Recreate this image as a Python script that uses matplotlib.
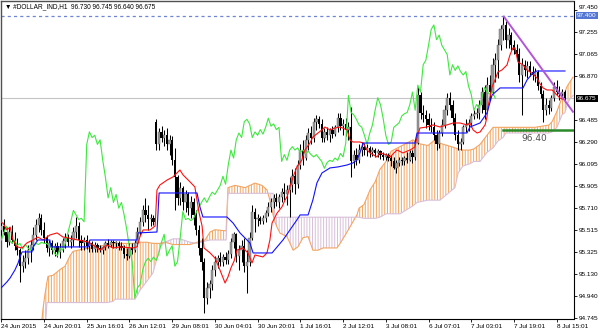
import numpy as np
import matplotlib
matplotlib.use("Agg")
import matplotlib.pyplot as plt
from matplotlib.transforms import blended_transform_factory

plt.rcParams['font.family'] = ['Liberation Sans', 'DejaVu Sans']
plt.rcParams['hatch.linewidth'] = 0.7

# ---------------- data ----------------
opens = [95.52, 95.55, 95.50, 95.41, 95.50, 95.43, 95.38, 95.34, 95.20, 95.24,
         95.27, 95.34, 95.39, 95.47, 95.56, 95.62, 95.52, 95.45, 95.36, 95.40,
         95.34, 95.38, 95.32, 95.36, 95.42, 95.45, 95.41, 95.43, 95.50, 95.55,
         95.43, 95.40, 95.43, 95.38, 95.40, 95.35, 95.39, 95.36, 95.34, 95.37,
         95.40, 95.39, 95.41, 95.40, 95.40, 95.38, 95.36, 95.31, 95.29, 95.36,
         95.34, 95.40, 95.50, 95.59, 95.69, 95.65, 95.61, 95.62, 96.47, 96.27,
         96.38, 96.33, 96.35, 96.27, 96.31, 96.13, 95.98, 95.80, 95.89, 95.76,
         95.83, 95.71, 95.76, 95.65, 95.52, 95.36, 95.24, 94.92, 95.01, 95.04,
         95.17, 95.24, 95.27, 95.24, 95.28, 95.25, 95.31, 95.41, 95.48, 95.29,
         95.34, 95.38, 95.20, 95.24, 95.45, 95.68, 95.61, 95.62, 95.60, 95.62,
         95.67, 95.72, 95.76, 95.80, 95.76, 95.81, 95.85, 95.83, 95.87, 95.91,
         95.99, 95.92, 96.09, 96.22, 96.15, 96.31, 96.37, 96.33, 96.47, 96.49,
         96.45, 96.33, 96.38, 96.35, 96.40, 96.36, 96.42, 96.50, 96.43, 96.45,
         96.40, 96.42, 96.12, 96.18, 96.13, 96.22, 96.25, 96.22, 96.24, 96.20,
         96.22, 96.19, 96.21, 96.18, 96.16, 96.18, 96.15, 96.12, 96.06, 96.11,
         96.13, 96.12, 96.15, 96.13, 96.19, 96.16, 96.28, 96.70, 96.55, 96.53,
         96.49, 96.44, 96.42, 96.35, 96.27, 96.37, 96.44, 96.57, 96.68, 96.62,
         96.50, 96.35, 96.27, 96.29, 96.42, 96.44, 96.46, 96.52, 96.54, 96.55,
         96.62, 96.73, 96.57, 96.79, 96.73, 96.97, 97.01, 97.14, 97.28, 97.32,
         97.19, 97.23, 97.14, 97.10, 97.06, 96.88, 96.97, 96.92, 96.96, 96.91,
         96.88, 96.91, 96.78, 96.71, 96.57, 96.62, 96.59, 96.68, 96.77, 96.73,
         96.71, 96.73]
highs = [95.59, 95.61, 95.54, 95.54, 95.56, 95.50, 95.45, 95.36, 95.30, 95.34,
         95.39, 95.43, 95.54, 95.61, 95.67, 95.66, 95.59, 95.47, 95.43, 95.43,
         95.40, 95.41, 95.40, 95.45, 95.49, 95.48, 95.47, 95.54, 95.63, 95.59,
         95.47, 95.46, 95.47, 95.43, 95.42, 95.41, 95.40, 95.39, 95.38, 95.42,
         95.44, 95.43, 95.43, 95.42, 95.42, 95.41, 95.39, 95.36, 95.40, 95.40,
         95.43, 95.54, 95.63, 95.74, 95.80, 95.74, 95.66, 95.65, 96.49, 96.41,
         96.43, 96.40, 96.41, 96.35, 96.34, 96.24, 96.00, 95.94, 95.90, 95.87,
         95.85, 95.82, 95.80, 95.69, 95.56, 95.45, 95.27, 95.06, 95.08, 95.21,
         95.29, 95.30, 95.32, 95.31, 95.32, 95.34, 95.45, 95.50, 95.49, 95.39,
         95.43, 95.45, 95.34, 95.50, 95.74, 95.71, 95.66, 95.64, 95.65, 95.69,
         95.76, 95.80, 95.83, 95.84, 95.83, 95.89, 95.93, 95.91, 95.98, 96.05,
         96.06, 96.13, 96.27, 96.31, 96.35, 96.41, 96.43, 96.50, 96.53, 96.52,
         96.49, 96.41, 96.42, 96.41, 96.43, 96.44, 96.55, 96.55, 96.49, 96.50,
         96.47, 96.60, 96.22, 96.24, 96.27, 96.29, 96.28, 96.27, 96.26, 96.25,
         96.24, 96.23, 96.22, 96.20, 96.19, 96.19, 96.18, 96.16, 96.13, 96.16,
         96.16, 96.17, 96.20, 96.22, 96.22, 96.31, 96.77, 96.73, 96.62, 96.57,
         96.55, 96.50, 96.47, 96.40, 96.40, 96.49, 96.62, 96.72, 96.73, 96.66,
         96.55, 96.40, 96.33, 96.44, 96.49, 96.49, 96.55, 96.57, 96.59, 96.66,
         96.77, 96.79, 96.86, 96.88, 97.03, 97.07, 97.20, 97.32, 97.40, 97.35,
         97.29, 97.26, 97.19, 97.15, 97.12, 97.03, 97.01, 97.00, 97.00, 96.96,
         96.94, 96.92, 96.82, 96.75, 96.68, 96.66, 96.70, 96.82, 96.84, 96.78,
         96.76, 96.745]
lows = [95.47, 95.47, 95.37, 95.39, 95.40, 95.34, 95.30, 95.06, 95.15, 95.18,
        95.22, 95.24, 95.34, 95.43, 95.50, 95.47, 95.40, 95.32, 95.29, 95.31,
        95.29, 95.28, 95.27, 95.32, 95.36, 95.38, 95.36, 95.38, 95.45, 95.37,
        95.34, 95.34, 95.35, 95.32, 95.32, 95.32, 95.32, 95.32, 95.31, 95.34,
        95.36, 95.37, 95.36, 95.36, 95.34, 95.34, 95.27, 95.25, 95.27, 95.31,
        95.32, 95.38, 95.47, 95.55, 95.59, 95.52, 95.55, 95.56, 96.22, 96.22,
        96.29, 96.26, 96.22, 96.18, 96.09, 95.69, 95.74, 95.74, 95.69, 95.68,
        95.65, 95.62, 95.56, 95.47, 95.30, 95.17, 94.79, 94.87, 94.92, 94.99,
        95.11, 95.18, 95.20, 95.20, 95.22, 95.22, 95.27, 95.36, 95.24, 95.17,
        95.24, 95.15, 94.96, 95.20, 95.43, 95.50, 95.55, 95.57, 95.57, 95.59,
        95.64, 95.68, 95.71, 95.73, 95.71, 95.76, 95.78, 95.74, 95.63, 95.85,
        95.83, 95.89, 96.05, 96.09, 96.13, 96.22, 96.27, 96.29, 96.40, 96.41,
        96.29, 96.29, 96.31, 96.29, 96.33, 96.34, 96.38, 96.40, 96.35, 96.34,
        96.31, 95.98, 96.06, 96.09, 96.11, 96.17, 96.18, 96.17, 96.16, 96.17,
        96.16, 96.16, 96.14, 96.13, 96.13, 96.12, 96.08, 96.05, 96.02, 96.08,
        96.09, 96.09, 96.11, 96.12, 96.11, 96.13, 96.27, 96.49, 96.47, 96.41,
        96.40, 96.38, 96.31, 96.22, 96.24, 96.34, 96.41, 96.53, 96.57, 96.44,
        96.31, 96.22, 96.22, 96.27, 96.38, 96.39, 96.42, 96.49, 96.50, 96.49,
        96.55, 96.49, 96.55, 96.66, 96.70, 96.82, 96.85, 97.10, 97.19, 97.12,
        97.12, 97.10, 97.06, 97.01, 96.82, 96.53, 96.87, 96.85, 96.87, 96.84,
        96.82, 96.75, 96.68, 96.47, 96.53, 96.54, 96.56, 96.65, 96.70, 96.66,
        96.68, 96.64]
closes = [95.55, 95.50, 95.41, 95.50, 95.43, 95.38, 95.34, 95.20, 95.24, 95.27,
          95.34, 95.39, 95.47, 95.56, 95.62, 95.52, 95.45, 95.36, 95.40, 95.34,
          95.38, 95.32, 95.36, 95.42, 95.45, 95.41, 95.43, 95.50, 95.55, 95.43,
          95.40, 95.43, 95.38, 95.40, 95.35, 95.39, 95.36, 95.34, 95.37, 95.40,
          95.39, 95.41, 95.40, 95.40, 95.38, 95.36, 95.31, 95.29, 95.36, 95.34,
          95.40, 95.50, 95.59, 95.69, 95.65, 95.61, 95.62, 95.59, 96.27, 96.38,
          96.33, 96.35, 96.27, 96.31, 96.13, 95.98, 95.80, 95.89, 95.76, 95.83,
          95.71, 95.76, 95.65, 95.52, 95.36, 95.24, 94.92, 95.01, 95.04, 95.17,
          95.24, 95.27, 95.24, 95.28, 95.25, 95.31, 95.41, 95.48, 95.29, 95.34,
          95.38, 95.20, 95.24, 95.45, 95.68, 95.61, 95.62, 95.60, 95.62, 95.67,
          95.72, 95.76, 95.80, 95.76, 95.81, 95.85, 95.83, 95.87, 95.91, 95.99,
          95.92, 96.09, 96.22, 96.15, 96.31, 96.37, 96.33, 96.47, 96.49, 96.45,
          96.33, 96.38, 96.35, 96.40, 96.36, 96.42, 96.50, 96.43, 96.45, 96.40,
          96.42, 96.12, 96.18, 96.13, 96.22, 96.25, 96.22, 96.24, 96.20, 96.22,
          96.19, 96.21, 96.18, 96.16, 96.18, 96.15, 96.12, 96.06, 96.11, 96.13,
          96.12, 96.15, 96.13, 96.19, 96.16, 96.28, 96.70, 96.55, 96.53, 96.49,
          96.44, 96.42, 96.35, 96.27, 96.37, 96.44, 96.57, 96.68, 96.62, 96.50,
          96.35, 96.27, 96.29, 96.42, 96.44, 96.46, 96.52, 96.54, 96.55, 96.62,
          96.73, 96.57, 96.79, 96.73, 96.97, 97.01, 97.14, 97.28, 97.32, 97.19,
          97.23, 97.14, 97.10, 97.06, 96.88, 96.97, 96.92, 96.96, 96.91, 96.88,
          96.91, 96.78, 96.71, 96.57, 96.62, 96.59, 96.68, 96.77, 96.73, 96.71,
          96.73, 96.675]

# Tenkan-sen (red)
tenkan_x = [-0.5, 0.6, 2.1, 3.3, 4.4, 5.9, 7.8, 9.6, 11.9, 13.7, 15.6, 18.2, 20.9, 23.1, 25.0,
            28.7, 32.5, 34.3, 37.0, 38.1, 39.6, 41.8, 44.5, 49.3, 50.8, 51.9, 53.1, 55.7, 57.6,
            58.3, 59.4, 62.1, 64.3, 66.9, 68.1, 70.7, 72.5, 74.0, 75.2, 75.9, 78.2, 80.0, 81.9,
            83.8, 84.9, 86.0, 87.2, 88.3, 90.5, 92.4, 93.9, 95.0, 98.0, 99.5, 100.6, 101.4,
            103.3, 105.1, 106.3, 107.0, 108.1, 109.3, 110.7, 112.6, 113.7, 115.6, 116.7, 118.6,
            120.1, 121.2, 123.1, 125.0, 126.9, 129.5, 130.6, 131.7, 134.3, 135.5, 137.0, 138.1,
            140.7, 141.8, 144.5, 145.6, 148.2, 150.4, 153.1, 154.9, 155.7, 156.8, 159.4, 161.7,
            164.3, 166.9, 169.2, 171.8, 174.4, 175.5, 176.7, 178.2, 179.3, 181.2, 181.9, 182.3,
            183.0, 183.8, 184.9, 186.0, 187.5, 189.4, 190.5, 191.6, 192.4, 193.5, 195.4, 196.9,
            199.1, 200.6, 201.8, 202.9, 204.4, 206.3, 208.1, 209.2, 211.1]
tenkan = [95.588, 95.579, 95.518, 95.544, 95.430, 95.369, 95.360, 95.404, 95.430, 95.456, 95.430,
          95.474, 95.492, 95.456, 95.448, 95.430, 95.412, 95.386, 95.342, 95.360, 95.386, 95.360,
          95.369, 95.360, 95.369, 95.456, 95.518, 95.518, 95.553, 95.869, 95.913, 95.957, 95.984,
          96.045, 96.001, 95.940, 95.896, 95.676, 95.553, 95.360, 95.316, 95.272, 95.166, 95.052,
          95.105, 95.184, 95.246, 95.342, 95.360, 95.316, 95.228, 95.298, 95.281, 95.316, 95.430,
          95.579, 95.667, 95.720, 95.782, 95.808, 95.896, 95.984, 96.072, 96.133, 96.221, 96.282,
          96.335, 96.370, 96.397, 96.423, 96.397, 96.414, 96.423, 96.397, 96.309, 96.291, 96.291,
          96.282, 96.221, 96.195, 96.159, 96.195, 96.177, 96.159, 96.221, 96.195, 96.221, 96.247,
          96.335, 96.414, 96.423, 96.441, 96.423, 96.441, 96.458, 96.458, 96.441, 96.458, 96.397,
          96.370, 96.379, 96.441, 96.511, 96.599, 96.687, 96.775, 96.836, 96.906, 96.924, 96.968,
          97.056, 97.117, 97.117, 96.994, 96.968, 96.924, 96.889, 96.854, 96.801, 96.766, 96.748,
          96.748, 96.704, 96.678, 96.660]

# Kijun-sen (blue)
kijun_x = [-0.1, 2.1, 3.3, 5.1, 6.3, 7.0, 7.8, 11.5, 11.9, 13.7, 18.2, 18.6, 32.5, 33.2, 50.8,
           51.2, 58.3, 59.1, 73.3, 74.4, 75.5, 84.5, 86.8, 89.4, 93.1, 94.3, 101.4, 103.3, 105.5,
           108.1, 110.7, 111.9, 114.9, 116.7, 118.2, 120.1, 123.1, 126.1, 129.5, 131.7, 133.2,
           134.3, 135.5, 154.9, 155.7, 174.4, 175.5, 179.3, 181.9, 183.8, 186.8, 195.4, 196.9,
           199.1, 200.6, 211.1]
kijun = [95.008, 95.061, 95.096, 95.166, 95.228, 95.281, 95.325, 95.325, 95.369, 95.430, 95.430,
         95.369, 95.369, 95.430, 95.430, 95.492, 95.500, 95.843, 95.843, 95.720, 95.632, 95.632,
         95.579, 95.492, 95.404, 95.316, 95.316, 95.369, 95.430, 95.518, 95.606, 95.650, 95.650,
         95.782, 95.931, 96.019, 96.063, 96.072, 96.089, 96.107, 96.133, 96.195, 96.282, 96.282,
         96.370, 96.370, 96.423, 96.458, 96.546, 96.704, 96.766, 96.766, 96.836, 96.898, 96.915,
         96.915]

# Senkou span A / B (cloud), read at common bar positions
cloud_x = [-0.5, 14.5, 15.6, 16.4, 17.1, 17.5, 19.4, 22.0, 23.9, 25.7, 26.9, 30.6, 35.8, 39.6,
           41.8, 42.6, 44.5, 50.1, 52.0, 54.6, 56.8, 58.3, 59.4, 61.3, 64.3, 66.9, 70.7, 73.3,
           76.3, 78.2, 80.0, 84.2, 84.9, 87.5, 91.3, 95.0, 97.6, 99.5, 100.6, 101.8, 102.5,
           103.3, 104.4, 107.0, 109.3, 111.1, 113.0, 114.9, 116.7, 118.6, 120.5, 125.7, 126.9,
           129.5, 131.7, 133.2, 134.0, 135.8, 138.1, 140.0, 141.8, 144.1, 146.0, 149.3, 154.2,
           155.7, 159.8, 162.4, 164.3, 169.9, 171.1, 172.9, 175.5, 177.0, 179.3, 181.9, 184.2,
           186.0, 187.9, 189.0, 190.5, 199.9, 205.1, 206.3, 208.1, 210.0, 211.1, 211.9, 213.0,
           214.1]
senkou_a = [94.46, 94.55, 94.82, 94.96, 95.06, 95.11, 95.12, 95.17, 95.20, 95.29, 95.33, 95.35,
            95.37, 95.39, 95.40, 95.40, 95.40, 95.40, 95.41, 95.41, 95.40, 95.40, 95.40, 95.41,
            95.39, 95.39, 95.39, 95.41, 95.43, 95.50, 95.52, 95.51, 95.89, 95.91, 95.89, 95.93,
            95.91, 95.87, 95.78, 95.65, 95.59, 95.54, 95.49, 95.46, 95.34, 95.37, 95.45, 95.46,
            95.34, 95.34, 95.36, 95.36, 95.40, 95.50, 95.59, 95.65, 95.71, 95.74, 95.87, 95.94,
            96.05, 96.12, 96.21, 96.25, 96.31, 96.28, 96.26, 96.31, 96.28, 96.24, 96.23, 96.22,
            96.22, 96.23, 96.27, 96.35, 96.42, 96.42, 96.42, 96.42, 96.42, 96.42, 96.44, 96.47,
            96.56, 96.68, 96.73, 96.78, 96.82, 96.86]
senkou_b = [94.46, 94.46, 94.46, 94.64, 94.88, 94.88, 94.88, 94.88, 94.88, 94.88, 94.88, 94.88,
            94.88, 94.88, 94.89, 94.91, 94.91, 94.91, 94.99, 95.07, 95.14, 95.27, 95.37, 95.41,
            95.44, 95.44, 95.41, 95.40, 95.42, 95.43, 95.43, 95.43, 95.84, 95.84, 95.84, 95.84,
            95.84, 95.84, 95.84, 95.84, 95.63, 95.63, 95.63, 95.63, 95.63, 95.63, 95.63, 95.63,
            95.63, 95.63, 95.63, 95.63, 95.63, 95.63, 95.63, 95.63, 95.63, 95.62, 95.62, 95.62,
            95.63, 95.66, 95.66, 95.66, 95.73, 95.76, 95.78, 95.78, 95.78, 95.89, 96.02, 96.08,
            96.10, 96.12, 96.12, 96.20, 96.24, 96.30, 96.33, 96.37, 96.37, 96.37, 96.37, 96.38,
            96.42, 96.53, 96.55, 96.62, 96.67, 96.70]
chikou_shift = 26

tick_bars = [0, 16, 32, 48, 64, 80, 96, 112, 128, 144, 160, 176, 192, 208]
tick_labels = ["24 Jun 2015", "24 Jun 20:01", "25 Jun 16:01", "26 Jun 12:01", "29 Jun 08:01",
               "30 Jun 04:01", "30 Jun 20:01", "1 Jul 16:01", "2 Jul 12:01", "3 Jul 08:01",
               "6 Jul 07:01", "7 Jul 03:01", "7 Jul 19:01", "8 Jul 15:01"]
price_ticks = [97.450, 97.255, 97.065, 96.870, 96.485, 96.290, 96.095, 95.905, 95.710,
               95.515, 95.325, 95.130, 94.940, 94.745]

high_level = 97.400
last_price = 96.675
support_level = 96.40
support_start = 188
trend_start = (188, 97.40)
trend_end = (214.3, 96.55)
header = "\u25bc #DOLLAR_IND,H1  96.730 96.745 96.640 96.675"

# ---------------- drawing ----------------
fig = plt.figure(figsize=(6.0, 3.33), dpi=100)
fig.patch.set_facecolor('white')
ax = fig.add_axes([1 / 600, 14.5 / 333, 572.5 / 600, 317.5 / 333])
ax.set_xlim(-0.11, 214.3)
ax.set_ylim(94.740, 97.530)

o = np.array(opens); h = np.array(highs); l = np.array(lows); c = np.array(closes)
idx = np.arange(len(c))
sa = np.array(senkou_a); sb = np.array(senkou_b); cx = np.array(cloud_x)

hatch = '||||||'
ax.fill_between(cx, sa, sb, where=sa >= sb, interpolate=True, facecolor='none',
                edgecolor='#f4a460', hatch=hatch, linewidth=0, zorder=1)
ax.fill_between(cx, sa, sb, where=sb > sa, interpolate=True, facecolor='none',
                edgecolor='#d8bfd8', hatch=hatch, linewidth=0, zorder=1)
ax.plot(cx, sa, color='#f4a460', lw=0.8, zorder=1.5)
ax.plot(cx, sb, color='#d8bfd8', lw=0.8, zorder=1.5)

# reference lines
ax.axhline(high_level, color='#6f86d6', lw=0.9, ls=(0, (2.5, 2.5)), zorder=1)
ax.axhline(last_price, color='#c4c4c4', lw=0.8, zorder=1)

# candles
up = c >= o
ax.vlines(idx, l, h, color='black', lw=0.75, zorder=3)
body_bottom = np.minimum(o, c)
body_h = np.maximum(np.abs(c - o), 0.008)
ax.bar(idx[up], body_h[up], bottom=body_bottom[up], width=0.85, color='#9a9a9a',
       edgecolor='#606060', linewidth=0.3, zorder=4)
ax.bar(idx[~up], body_h[~up], bottom=body_bottom[~up], width=0.85, color='black', zorder=4)

# ichimoku lines
ax.plot(idx - chikou_shift, c, color='#3ee83e', lw=0.8, zorder=5)
ax.plot(tenkan_x, tenkan, color='#ff1010', lw=0.8, zorder=5)
ax.plot(kijun_x, kijun, color='#1010ff', lw=0.8, zorder=5)

# support line and trendline
ax.plot([support_start, 214.3], [support_level, support_level], color='#2a8a2a', lw=1.8, zorder=6)
ax.text(199.5, 96.325, "96.40", fontsize=6.5, color='#505050', ha='center', va='center',
        family=['DejaVu Sans'], zorder=7)
ax.plot([trend_start[0], trend_end[0]], [trend_start[1], trend_end[1]], color='#b355d8',
        lw=1.4, zorder=6, solid_capstyle='butt')

# axes styling
for s in ['left', 'top']:
    ax.spines[s].set_color('#505050'); ax.spines[s].set_linewidth(1.0)
for s in ['right', 'bottom']:
    ax.spines[s].set_color('black'); ax.spines[s].set_linewidth(0.8)

ax.yaxis.tick_right()
ax.set_yticks(price_ticks)
ax.set_yticklabels(["%.3f" % v for v in price_ticks])
ax.tick_params(axis='y', direction='out', length=2.5, width=0.6, pad=1.5,
               labelsize=4.6, colors='black')
ax.set_xticks(tick_bars)
ax.set_xticklabels(tick_labels)
ax.tick_params(axis='x', direction='out', length=2.5, width=0.6, pad=1.5,
               labelsize=4.6, colors='black')
for lab in ax.get_xticklabels():
    lab.set_ha('left')
# keep the top price label clear of the 97.400 tag
ax.get_yticklabels()[0].set_va('bottom')

# price tags
tr = blended_transform_factory(ax.transAxes, ax.transData)
ax.text(1.006, high_level, "97.400", transform=tr, fontsize=4.6, color='white',
        va='center', ha='left', zorder=10, clip_on=False,
        bbox=dict(boxstyle='square,pad=0.15', fc='#5577d4', ec='none'))
ax.text(1.006, last_price, "96.675", transform=tr, fontsize=4.6, color='white',
        va='center', ha='left', zorder=10, clip_on=False,
        bbox=dict(boxstyle='square,pad=0.15', fc='black', ec='none'))

fig.text(5 / 600, 1 - 7 / 333, header, fontsize=4.7, color='black', va='center', ha='left')

fig.savefig("out.png", dpi=100, facecolor='white')
